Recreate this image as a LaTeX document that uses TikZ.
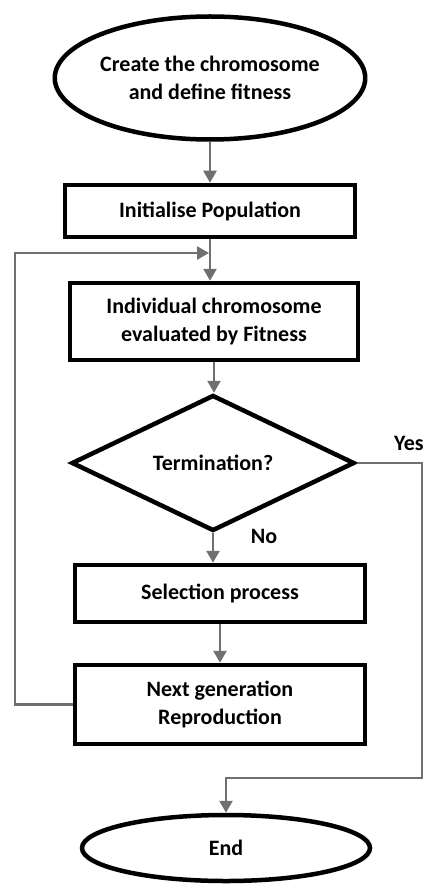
\documentclass[tikz,border=0pt]{standalone}
\usepackage{fontspec}
\setmainfont{Carlito}
\usetikzlibrary{shapes.geometric,arrows.meta}
\definecolor{arrgray}{RGB}{112,112,112}
\tikzset{
  txt/.style={font=\fontsize{22}{28}\selectfont\bfseries},
  boxstyle/.style={txt, draw=black, line width=4.5pt, rectangle, inner sep=0pt, align=center},
  ellstyle/.style={txt, draw=black, line width=4.5pt, ellipse, inner sep=0pt, align=center},
  decstyle/.style={txt, draw=black, line width=4.5pt, diamond, inner sep=0pt, align=center},
  arr/.style={draw=arrgray, line width=2.6pt, -{Triangle[length=12pt,width=13pt]}},
  lbl/.style={txt, inner sep=0pt}
}
\begin{document}
\begin{tikzpicture}[x=1pt,y=-1pt]
\useasboundingbox (0,0) rectangle (425,885);
\node[ellstyle, minimum width=310pt, minimum height=123pt] (start) at (210,78) {Create the chromosome\\and define fitness};
\node[boxstyle, minimum width=290pt, minimum height=52pt] (init) at (210,211) {Initialise Population};
\node[boxstyle, minimum width=288pt, minimum height=77pt] (eval) at (214,321.5) {Individual chromosome\\evaluated by Fitness};
\node[decstyle, minimum width=283pt, minimum height=118pt] (dec) at (213,463) {Termination?};
\node[boxstyle, minimum width=290pt, minimum height=57pt] (sel) at (220,593.5) {Selection process};
\node[boxstyle, minimum width=290pt, minimum height=79pt] (next) at (220,704.5) {Next generation\\Reproduction};
\node[ellstyle, minimum width=288pt, minimum height=66pt] (end) at (226,848) {End};
\node[lbl, anchor=west] (yes) at (394,443) {Yes};
\node[lbl] (no) at (264,536) {No};
\coordinate (fbL) at (15,253);
\coordinate (fbE) at (209,253);
\coordinate (yr) at (422,778);
\coordinate (yl) at (226,778);
\draw[arr] (start.south) -- (start.south |- init.north);
\draw[arr] (init.south) -- (init.south |- eval.north);
\draw[arr] (eval.south) -- (eval.south |- dec.north);
\draw[arr] (dec.south) -- (dec.south |- sel.north);
\draw[arr] (sel.south) -- (sel.south |- next.north);
\draw[arr] (next.west) -| (fbL) -- (fbE);
\draw[arr] (dec.east) -| (yr) -- (yl) -- (end.north);
\end{tikzpicture}
\end{document}
